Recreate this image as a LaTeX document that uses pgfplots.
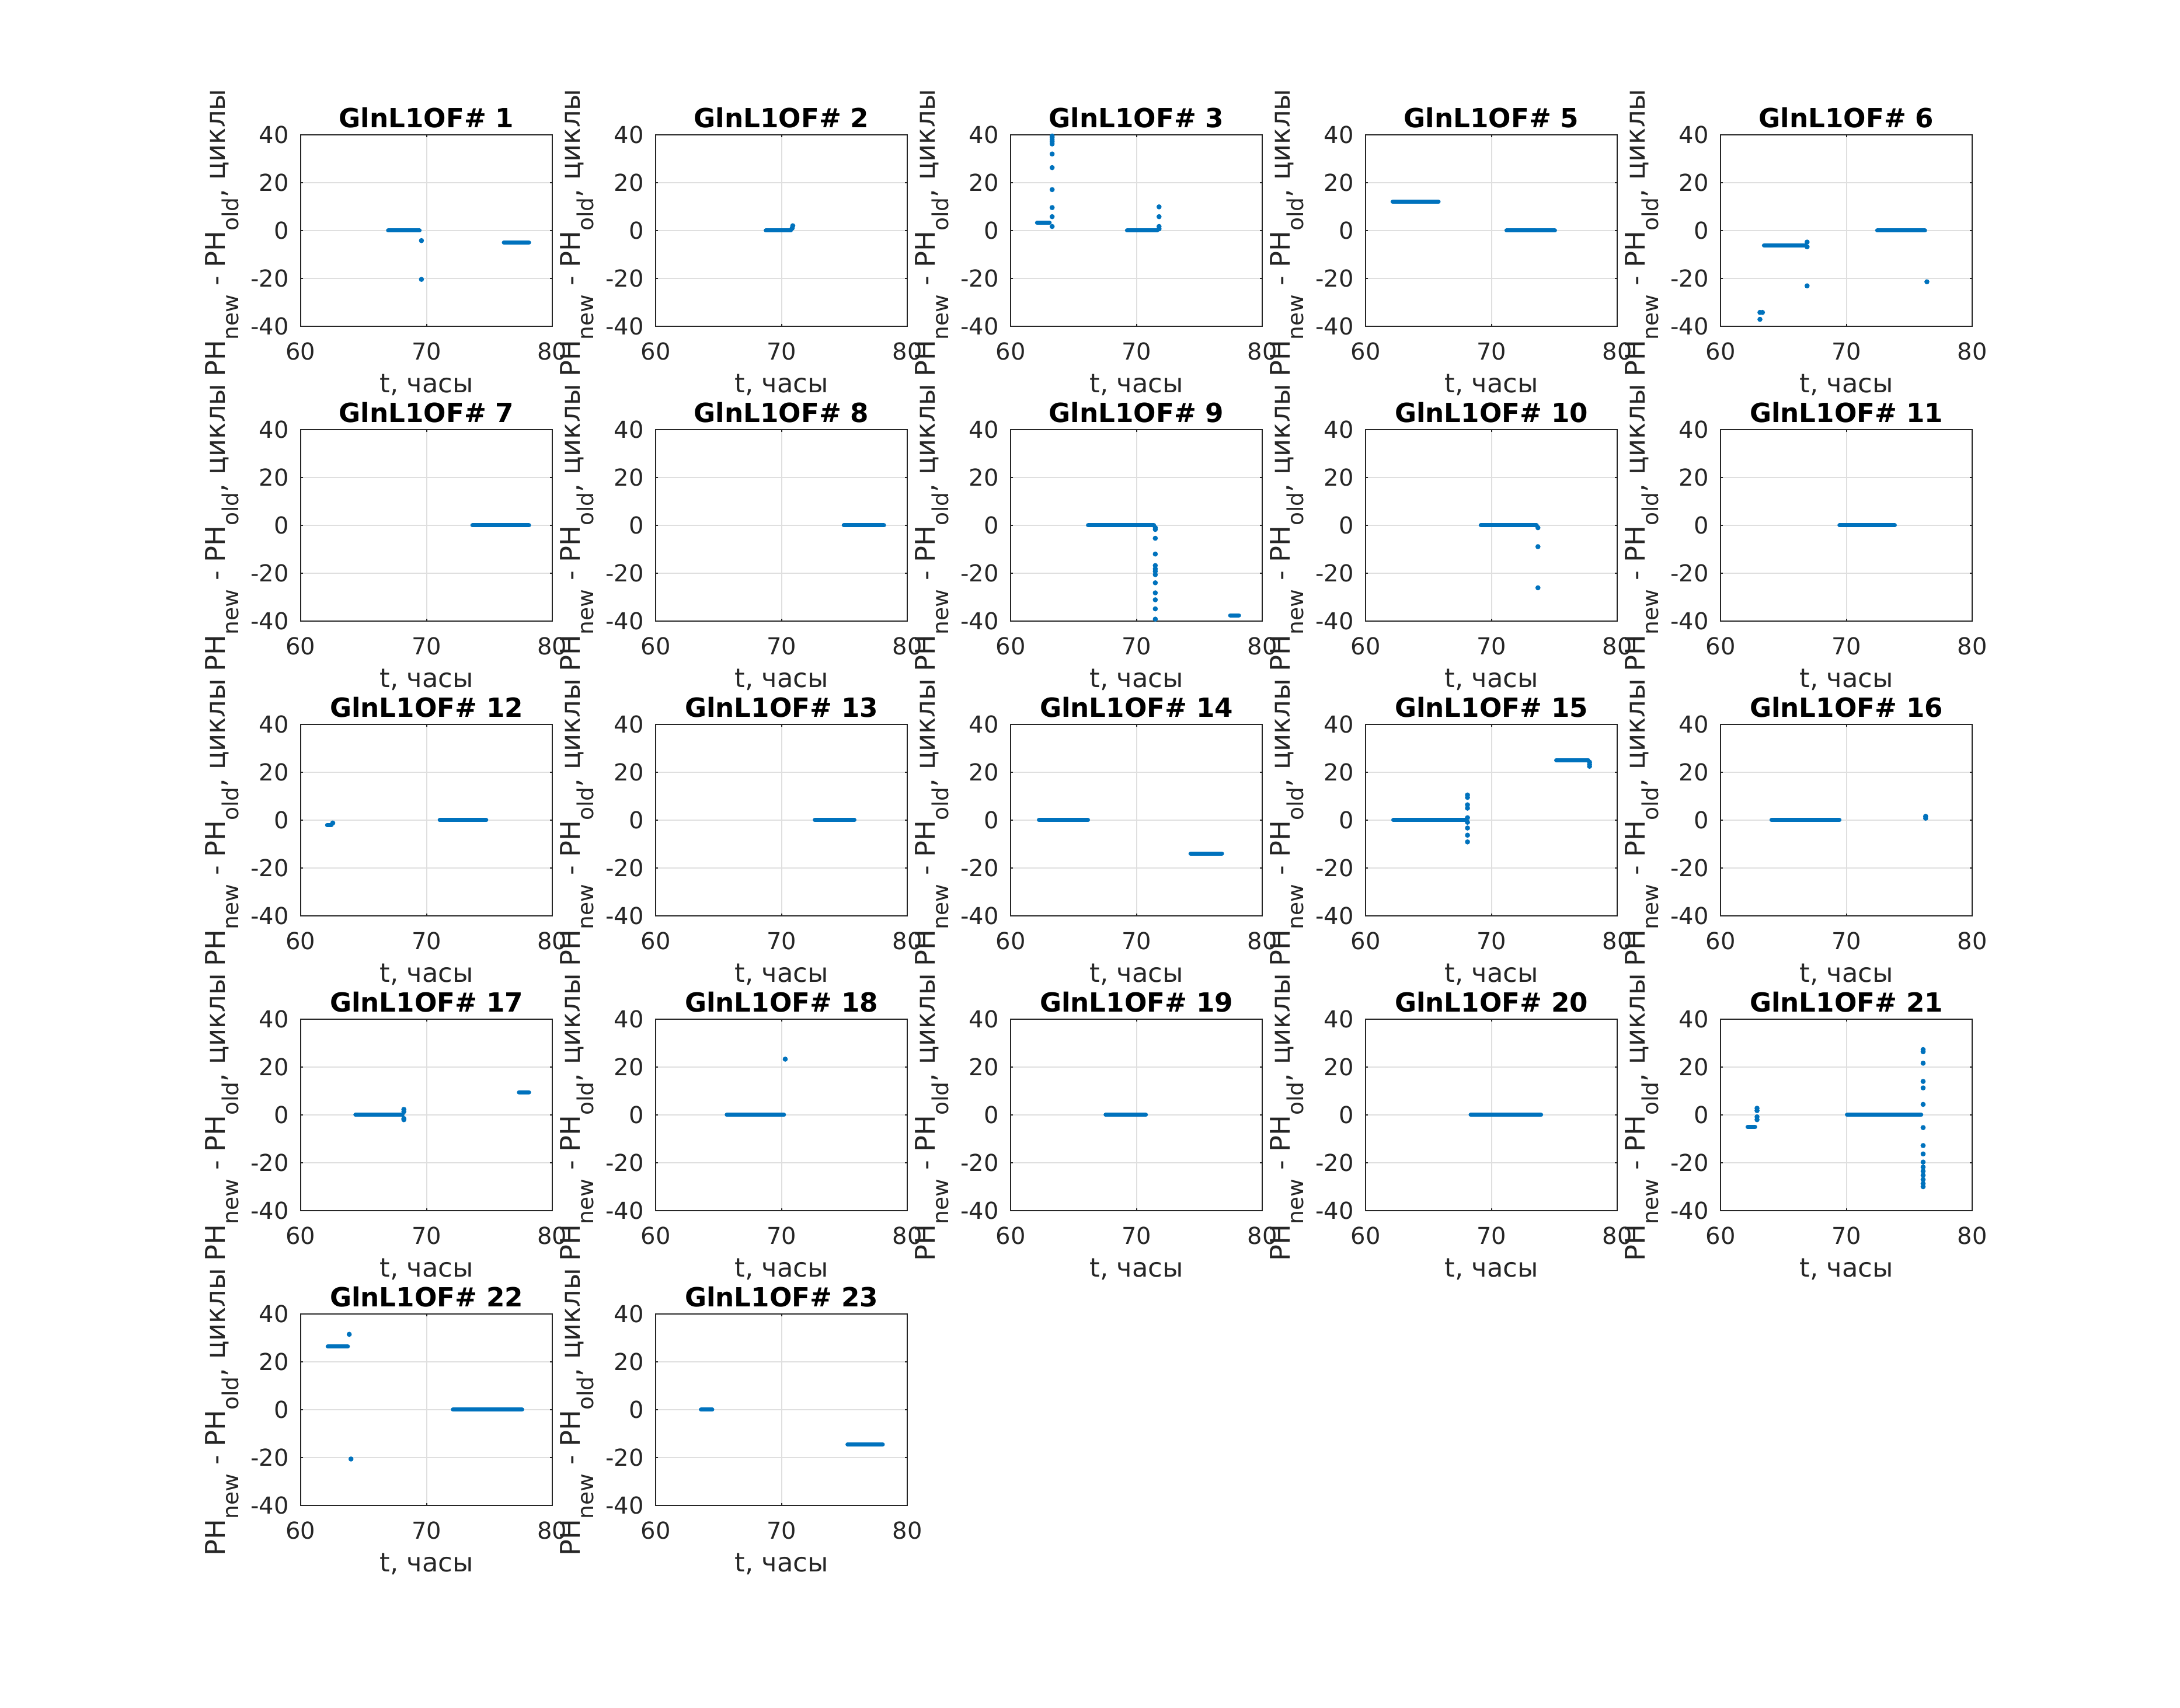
\documentclass[border=0pt]{standalone}
\usepackage{fontspec}
\setmainfont{DejaVu Sans}
\usepackage{pgfplots}
\pgfplotsset{compat=1.18}
\definecolor{mblue}{RGB}{0,114,189}
\definecolor{axc}{RGB}{38,38,38}
\definecolor{gridc}{RGB}{223,223,223}
\newcommand{\sub}[1]{\raisebox{-5.7pt}{\fontsize{9.4}{10}\selectfont #1}}
\pgfplotsset{
 sp/.style={
  anchor=north west, scale only axis, width=107.75pt, height=82pt,
  xmin=60, xmax=80, ymin=-40, ymax=40,
  xtick={60,70,80}, ytick={-40,-20,0,20,40},
  grid=major, major grid style={color=gridc, line width=0.5pt},
  tick align=inside, major tick length=1.1pt,
  axis line style={color=axc, line width=0.5pt},
  every tick/.style={color=axc, line width=0.5pt},
  tick label style={font=\fontsize{10}{12}\selectfont, text=axc},
  xticklabel shift=3.5pt, yticklabel shift=1.6pt,
  /pgf/number format/assume math mode=true,
  every axis title/.style={font=\bfseries\fontsize{11.3}{13}\selectfont, text=black, at={([yshift=3.1pt]axis description cs:0.5,1)}, anchor=base, inner sep=0pt},
  xlabel={t, часы},
  ylabel={PH\sub{new} - PH\sub{old}, циклы},
  every axis x label/.style={font=\fontsize{11.2}{13}\selectfont, text=axc, at={([yshift=-28.5pt]axis description cs:0.5,0)}, anchor=base, inner sep=0pt},
  every axis y label/.style={font=\fontsize{11.6}{13}\selectfont, text=axc, at={([xshift=-32.35pt,yshift=-1pt]axis description cs:0,0.5)}, rotate=90, anchor=base, inner sep=0pt},
  clip=false,
 },
 run/.style={no markers, line width=1.75pt, line cap=round, color=mblue},
 dots/.style={only marks, mark=*, mark size=0.875pt, color=mblue},
}
\begin{document}
\begin{tikzpicture}
\useasboundingbox (0,0) rectangle (933.5pt,731.25pt);
% ---------- row 1 ----------
\begin{axis}[sp, at={(128.75pt,673.5pt)}, title={GlnL1OF\# 1}]
\addplot[run] coordinates {(66.95,0) (69.45,0)};
\addplot[run] coordinates {(76.15,-5) (78.15,-5)};
\addplot[dots] coordinates {(69.6,-4.2) (69.6,-20.4)};
\end{axis}
\begin{axis}[sp, at={(280.75pt,673.5pt)}, title={GlnL1OF\# 2}]
\addplot[run] coordinates {(68.75,0) (70.75,0)};
\addplot[dots] coordinates {(70.85,1.0) (70.9,2.0)};
\end{axis}
\begin{axis}[sp, at={(432.75pt,673.5pt)}, title={GlnL1OF\# 3}]
\addplot[run] coordinates {(62.1,3.2) (63.1,3.2)};
\addplot[dots] coordinates {(63.3,39.5) (63.3,38.8) (63.3,37.9) (63.3,37.1) (63.3,36.2) (63.3,32.0) (63.3,26.3) (63.3,17.1) (63.3,9.6) (63.3,5.8) (63.3,1.7)};
\addplot[run] coordinates {(69.25,0) (71.65,0)};
\addplot[dots] coordinates {(71.8,9.9) (71.8,5.8) (71.8,1.7) (71.8,0.7)};
\end{axis}
\begin{axis}[sp, at={(584.75pt,673.5pt)}, title={GlnL1OF\# 5}]
\addplot[run] coordinates {(62.15,12) (65.8,12)};
\addplot[run] coordinates {(71.2,0) (75.05,0)};
\end{axis}
\begin{axis}[sp, at={(736.75pt,673.5pt)}, title={GlnL1OF\# 6}]
\addplot[dots] coordinates {(63.13,-34.2) (63.33,-34.2) (63.13,-37.1)};
\addplot[run] coordinates {(63.45,-6.2) (66.75,-6.2)};
\addplot[dots] coordinates {(66.88,-4.8) (66.88,-6.8) (66.88,-23.1)};
\addplot[run] coordinates {(72.45,0) (76.25,0)};
\addplot[dots] coordinates {(76.4,-21.4)};
\end{axis}
% ---------- row 2 ----------
\begin{axis}[sp, at={(128.75pt,547.25pt)}, title={GlnL1OF\# 7}]
\addplot[run] coordinates {(73.65,0) (78.15,0)};
\end{axis}
\begin{axis}[sp, at={(280.75pt,547.25pt)}, title={GlnL1OF\# 8}]
\addplot[run] coordinates {(74.95,0) (78.15,0)};
\end{axis}
\begin{axis}[sp, at={(432.75pt,547.25pt)}, title={GlnL1OF\# 9}]
\addplot[run] coordinates {(66.15,0) (71.4,0)};
\addplot[dots] coordinates {(71.5,-1.0) (71.5,-1.7) (71.5,-5.4) (71.5,-12.0) (71.5,-16.8) (71.5,-18.2) (71.5,-19.2) (71.5,-20.6) (71.5,-24.0) (71.5,-28.2) (71.5,-31.1) (71.5,-34.9) (71.5,-39.2)};
\addplot[run] coordinates {(77.45,-37.6) (78.15,-37.6)};
\end{axis}
\begin{axis}[sp, at={(584.75pt,547.25pt)}, title={GlnL1OF\# 10}]
\addplot[run] coordinates {(69.15,0) (73.6,0)};
\addplot[dots] coordinates {(73.7,-1.0) (73.7,-8.9) (73.7,-26.1)};
\end{axis}
\begin{axis}[sp, at={(736.75pt,547.25pt)}, title={GlnL1OF\# 11}]
\addplot[run] coordinates {(69.45,0) (73.85,0)};
\end{axis}
% ---------- row 3 ----------
\begin{axis}[sp, at={(128.75pt,421pt)}, title={GlnL1OF\# 12}]
\addplot[run] coordinates {(62.1,-2.0) (62.45,-2.0)};
\addplot[dots] coordinates {(62.55,-1.2)};
\addplot[run] coordinates {(71.05,0) (74.75,0)};
\end{axis}
\begin{axis}[sp, at={(280.75pt,421pt)}, title={GlnL1OF\# 13}]
\addplot[run] coordinates {(72.65,0) (75.8,0)};
\end{axis}
\begin{axis}[sp, at={(432.75pt,421pt)}, title={GlnL1OF\# 14}]
\addplot[run] coordinates {(62.25,0) (66.15,0)};
\addplot[run] coordinates {(74.3,-14) (76.8,-14)};
\end{axis}
\begin{axis}[sp, at={(584.75pt,421pt)}, title={GlnL1OF\# 15}]
\addplot[run] coordinates {(62.2,0) (68.0,0)};
\addplot[dots] coordinates {(68.1,10.5) (68.1,9.5) (68.1,6.4) (68.1,5.0) (68.1,1.0) (68.1,-0.9) (68.1,-3.3) (68.1,-6.3) (68.1,-9.1)};
\addplot[run] coordinates {(75.15,25.1) (77.7,25.1)};
\addplot[dots] coordinates {(77.8,24.2) (77.8,23.3) (77.8,22.5)};
\end{axis}
\begin{axis}[sp, at={(736.75pt,421pt)}, title={GlnL1OF\# 16}]
\addplot[run] coordinates {(64.05,0) (69.45,0)};
\addplot[dots] coordinates {(76.3,1.6) (76.3,0.8)};
\end{axis}
% ---------- row 4 ----------
\begin{axis}[sp, at={(128.75pt,294.75pt)}, title={GlnL1OF\# 17}]
\addplot[run] coordinates {(64.35,0) (68.1,0)};
\addplot[dots] coordinates {(68.2,2.3) (68.2,1.4) (68.2,-1.5) (68.2,-2.0)};
\addplot[run] coordinates {(77.35,9.5) (78.15,9.5)};
\end{axis}
\begin{axis}[sp, at={(280.75pt,294.75pt)}, title={GlnL1OF\# 18}]
\addplot[run] coordinates {(65.65,0) (70.2,0)};
\addplot[dots] coordinates {(70.3,23.3)};
\end{axis}
\begin{axis}[sp, at={(432.75pt,294.75pt)}, title={GlnL1OF\# 19}]
\addplot[run] coordinates {(67.55,0) (70.75,0)};
\end{axis}
\begin{axis}[sp, at={(584.75pt,294.75pt)}, title={GlnL1OF\# 20}]
\addplot[run] coordinates {(68.35,0) (73.95,0)};
\end{axis}
\begin{axis}[sp, at={(736.75pt,294.75pt)}, title={GlnL1OF\# 21}]
\addplot[run] coordinates {(62.15,-5.1) (62.75,-5.1)};
\addplot[dots] coordinates {(62.9,2.8) (62.9,1.8) (62.9,-0.8) (62.9,-2.0)};
\addplot[run] coordinates {(70.05,0) (75.95,0)};
\addplot[dots] coordinates {(76.1,27.3) (76.1,26.4) (76.1,21.6) (76.1,14.0) (76.1,11.3) (76.1,4.4) (76.1,-5.3) (76.1,-12.8) (76.1,-16.3) (76.1,-19.7) (76.1,-21.8) (76.1,-23.5) (76.1,-25.2) (76.1,-27.0) (76.1,-28.7) (76.1,-30.0)};
\end{axis}
% ---------- row 5 ----------
\begin{axis}[sp, at={(128.75pt,168.5pt)}, title={GlnL1OF\# 22}]
\addplot[run] coordinates {(62.15,26.4) (63.75,26.4)};
\addplot[dots] coordinates {(63.86,31.5) (64.0,-20.6)};
\addplot[run] coordinates {(72.1,0) (77.6,0)};
\end{axis}
\begin{axis}[sp, at={(280.75pt,168.5pt)}, title={GlnL1OF\# 23}]
\addplot[run] coordinates {(63.6,0) (64.5,0)};
\addplot[run] coordinates {(75.25,-14.5) (78.05,-14.5)};
\end{axis}
\end{tikzpicture}
\end{document}
